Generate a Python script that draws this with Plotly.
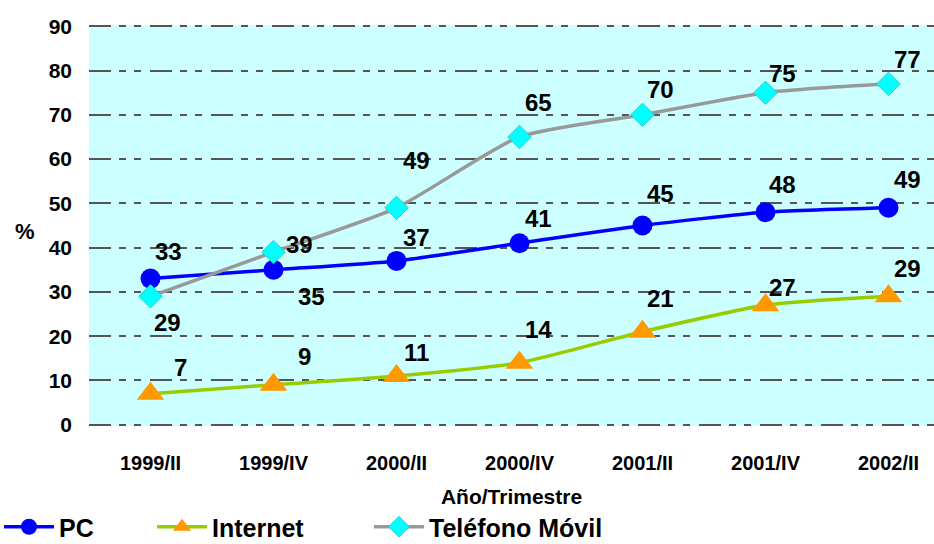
import plotly.graph_objects as go

# Quarterly penetration (%) by technology
quarters = ["1999/II", "1999/IV", "2000/II", "2000/IV", "2001/II", "2001/IV", "2002/II"]
pc = [33, 35, 37, 41, 45, 48, 49]
internet = [7, 9, 11, 14, 21, 27, 29]
movil = [29, 39, 49, 65, 70, 75, 77]

# Label offsets (px) relative to each marker: (xshift, yshift)
pc_off = [(18, 27), (38, -27), (20, 23), (19, 25), (18, 32), (17, 28), (19, 28)]
internet_off = [(30, 26), (31, 28), (20, 23), (19, 33), (18, 33), (17, 18), (19, 28)]
movil_off = [(17, -26), (26, 8), (20, 47), (19, 34), (18, 25), (17, 19), (19, 24)]

FONT = "Liberation Sans, Arial, sans-serif"
GRID_DASH = "22px,8px,7px,8px,7px,9px"

# Page and plot-area geometry (px)
L, R, T, B = 89, 0, 25, 118
W, H = 934, 544
pw, ph = W - L - R, H - T - B


def px_x(x):
    return (x - L) / pw


def px_y(y):
    return (H - B - y) / ph


fig = go.Figure()

fig.add_trace(go.Scatter(
    x=quarters, y=pc, name="PC", mode="lines+markers",
    line=dict(color="#0000FF", width=3.5, shape="spline", smoothing=0.6),
    marker=dict(symbol="circle", size=20, color="#0000FF"),
    legend="legend",
))
fig.add_trace(go.Scatter(
    x=quarters, y=internet, name="Internet", mode="lines+markers",
    line=dict(color="#99CC00", width=3.5, shape="spline", smoothing=0.6),
    marker=dict(symbol="triangle-up", size=24, color="#FF9900"),
    legend="legend2",
))
fig.add_trace(go.Scatter(
    x=quarters, y=movil, name="Teléfono Móvil", mode="lines+markers",
    line=dict(color="#999999", width=3.5, shape="spline", smoothing=0.6),
    marker=dict(symbol="diamond", size=18, color="#00FFFF",
                line=dict(color="#33CCCC", width=1)),
    legend="legend3",
))

annotations = []
for series, offs in ((pc, pc_off), (internet, internet_off), (movil, movil_off)):
    for q, v, (dx, dy) in zip(quarters, series, offs):
        annotations.append(dict(
            x=q, y=v, xref="x", yref="y", text=str(v), showarrow=False,
            xshift=dx, yshift=dy,
            font=dict(family=FONT, size=24, color="black", weight="bold"),
        ))

# y-axis caption, drawn horizontally beside the tick labels
annotations.append(dict(
    x=px_x(25), y=px_y(232), xref="paper", yref="paper", text="%", showarrow=False,
    xanchor="center", yanchor="middle",
    font=dict(family=FONT, size=22, color="black", weight="bold"),
))

legend_common = dict(
    orientation="h", yanchor="middle", xanchor="left",
    y=px_y(527), bgcolor="rgba(0,0,0,0)",
    font=dict(family=FONT, size=25, color="black", weight="bold"),
    itemwidth=50,
)

fig.update_layout(
    width=W, height=H,
    margin=dict(l=L, r=R, t=T, b=B, autoexpand=False),
    paper_bgcolor="white",
    plot_bgcolor="#CCFFFF",
    showlegend=True,
    legend=dict(legend_common, x=px_x(-1)),
    legend2=dict(legend_common, x=px_x(152)),
    legend3=dict(legend_common, x=px_x(369)),
    annotations=annotations,
    xaxis=dict(
        type="category", range=[-0.5, 6.37],
        showgrid=False, showline=False, zeroline=False, ticks="",
        tickfont=dict(family=FONT, size=20, color="black", weight="bold"),
        ticklabelstandoff=23,
        title=dict(text="Año/Trimestre", standoff=16,
                   font=dict(family=FONT, size=21, color="black", weight="bold")),
    ),
    yaxis=dict(
        range=[-0.3, 90.3], dtick=10, tick0=0,
        showgrid=True, gridcolor="#555555", gridwidth=1.5, griddash=GRID_DASH,
        showline=False, zeroline=False, ticks="",
        tickfont=dict(family=FONT, size=21, color="black", weight="bold"),
        ticklabelstandoff=16,
    ),
)

fig.write_html("out.html")
